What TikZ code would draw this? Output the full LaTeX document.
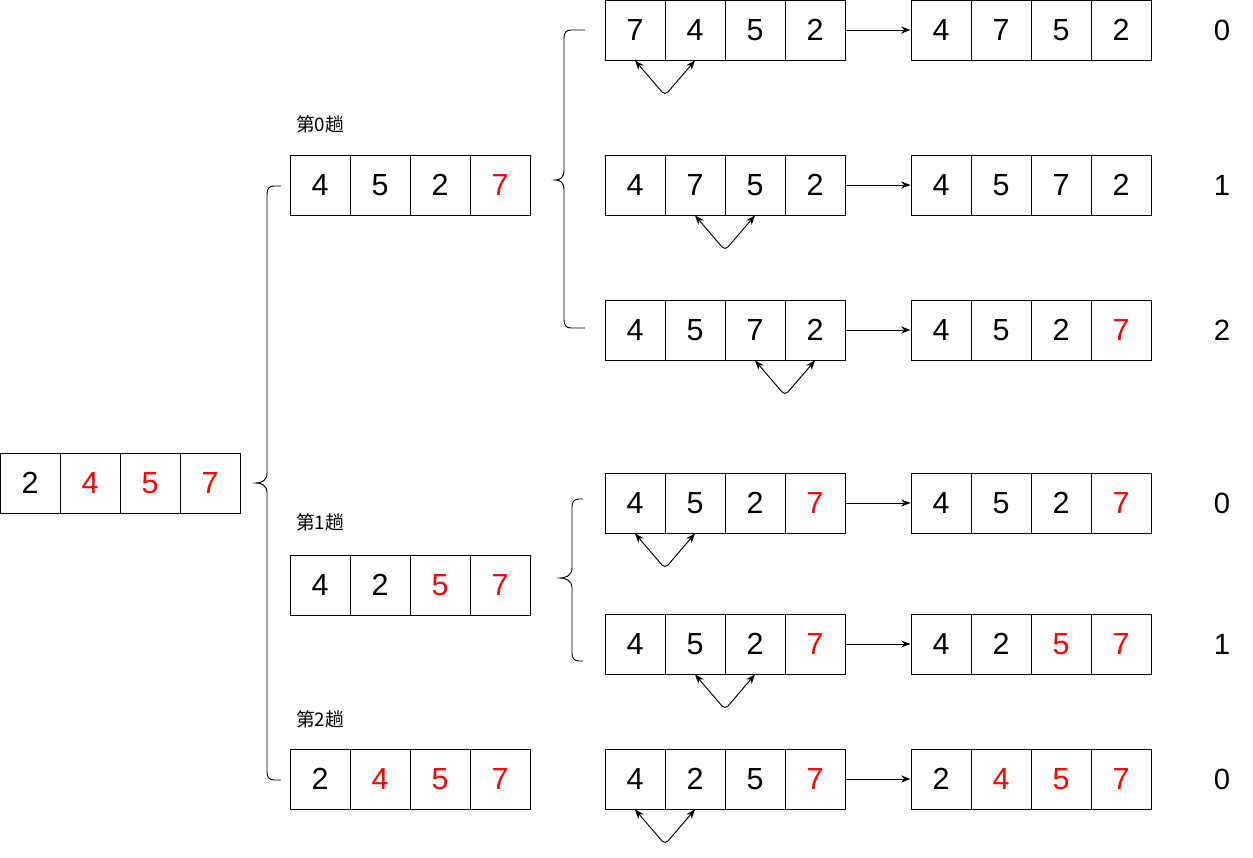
\documentclass[tikz,border=0pt]{standalone}
\usepackage{fontspec}
\setmainfont{Liberation Sans}
\newfontfamily\cjk{Noto Sans CJK SC}
\usetikzlibrary{arrows.meta,calc}
\newcommand\hot[1]{\textcolor{red}{#1}}
\tikzset{
  cell/.style={draw, rectangle, minimum width=1.8cm, minimum height=1.8cm, inner sep=0pt, line width=0.8pt, font=\fontsize{26}{30}\selectfont},
  link/.style={-{Stealth[length=8pt,width=6pt]}, line width=0.8pt},
  swap/.style={{Stealth[length=8pt,width=6pt]}-{Stealth[length=8pt,width=6pt]}, line width=0.8pt, rounded corners=4pt},
  bracket/.style={line width=0.8pt},
  pass/.style={font=\cjk\fontsize{16}{18}\selectfont},
  idx/.style={font=\fontsize{25}{28}\selectfont}
}
% one row of four cells: name, left x, top y, values
\newcommand\cellrow[4]{%
  \foreach \v [count=\i] in {#4}
    \node[cell] (#1-\i) at ({#2+60*\i-30},{#3+30}) {\v};
}
% curly bracket: arm x, line x, tip x, top y, tip y, bottom y
\newcommand\curly[6]{%
  \draw[bracket] (#1,#4) -- ({#2+7},#4) .. controls ({#2+2},#4) and (#2,{#4+3}) .. (#2,{#4+8})
    -- (#2,{#5-10}) .. controls (#2,{#5-2}) and ({#3+5},#5) .. (#3,#5)
    .. controls ({#3+5},#5) and (#2,{#5+2}) .. (#2,{#5+10})
    -- (#2,{#6-8}) .. controls (#2,{#6-3}) and ({#2+2},#6) .. ({#2+7},#6) -- (#1,#6);
}
\begin{document}
\begin{tikzpicture}[x=0.03cm, y=-0.03cm]
\useasboundingbox (0,0) rectangle (1253,857);
% start and passes
\cellrow{s}{0}{453}{2,\hot{4},\hot{5},\hot{7}}
\cellrow{p0}{290}{155}{4,5,2,\hot{7}}
\cellrow{p1}{290}{555}{4,2,\hot{5},\hot{7}}
\cellrow{p2}{290}{749}{2,\hot{4},\hot{5},\hot{7}}
\node[pass] (l0) at (320,124) {第0趟};
\node[pass] (l1) at (320,522) {第1趟};
\node[pass] (l2) at (320,719) {第2趟};
% comparisons, before and after
\cellrow{b1}{605}{0}{7,4,5,2}
\cellrow{a1}{911}{0}{4,7,5,2}
\cellrow{b2}{605}{155}{4,7,5,2}
\cellrow{a2}{911}{155}{4,5,7,2}
\cellrow{b3}{605}{300}{4,5,7,2}
\cellrow{a3}{911}{300}{4,5,2,\hot{7}}
\cellrow{b4}{605}{473}{4,5,2,\hot{7}}
\cellrow{a4}{911}{473}{4,5,2,\hot{7}}
\cellrow{b5}{605}{614}{4,5,2,\hot{7}}
\cellrow{a5}{911}{614}{4,2,\hot{5},\hot{7}}
\cellrow{b6}{605}{749}{4,2,5,\hot{7}}
\cellrow{a6}{911}{749}{2,\hot{4},\hot{5},\hot{7}}
% step index
\foreach \r/\n in {1/0,2/1,3/2,4/0,5/1,6/0}
  \node[idx] (n\r) at ($(a\r-4.center)+(101,0)$) {\n};
\foreach \r in {1,...,6}
  \draw[link] (b\r-4.east) -- (a\r-1.west);
% swapped pair
\foreach \r/\j in {1/1,2/2,3/3,4/1,5/2,6/1} {
  \pgfmathtruncatemacro\k{\j+1}
  \coordinate (v\r) at ($(b\r-\j.south)!0.5!(b\r-\k.south)+(0,35)$);
  \draw[swap] (b\r-\j.south) -- (v\r) -- (b\r-\k.south);
}
% brackets
\curly{281}{267}{256}{186}{483}{780}
\curly{585}{564}{555}{30}{180}{328}
\curly{583}{572}{560}{499}{578}{661}
\end{tikzpicture}
\end{document}
